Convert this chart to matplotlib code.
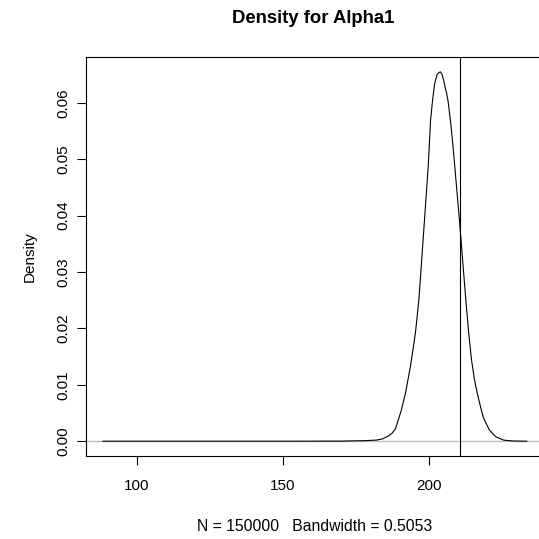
import numpy as np
import matplotlib
matplotlib.use("Agg")
import matplotlib.pyplot as plt

plt.rcParams["font.family"] = ["Liberation Sans", "DejaVu Sans"]

# density estimate
dens_x = [88.4, 120.0, 150.0, 170.0, 178.0, 182.0, 184.0, 186.0, 187.3, 188.5,
          190.5, 191.9, 193.6, 195.3, 196.5, 198.1, 199.7, 200.5, 201.2, 201.9,
          202.7, 203.4, 203.9, 204.4, 205.0, 205.6, 206.0, 206.5, 207.5, 208.5,
          209.5, 210.5, 211.5, 212.5, 213.5, 214.5, 215.5, 216.5, 217.6, 218.5,
          220.6, 222.8, 225.5, 228.5, 233.4]
dens_y = [0.0, 0.0, 0.0, 0.00002, 0.0001, 0.0002, 0.0004, 0.0009, 0.0014, 0.0022,
          0.0055, 0.0085, 0.0132, 0.0191, 0.0250, 0.0368, 0.0487, 0.0569, 0.0605, 0.0634,
          0.0650, 0.0654, 0.0655, 0.0651, 0.0640, 0.0625, 0.0617, 0.0603, 0.0560, 0.0505,
          0.0445, 0.0385, 0.0320, 0.0255, 0.0195, 0.0145, 0.0110, 0.0085, 0.0061, 0.0043,
          0.0020, 0.0008, 0.0002, 0.00005, 0.0]
true_value = 210.75
n_obs = 150000
bandwidth = 0.5053

x_ticks = [100, 150, 200]
y_ticks = [0.00, 0.01, 0.02, 0.03, 0.04, 0.05, 0.06]

fig = plt.figure(figsize=(5.39, 5.39), dpi=100)
ax = fig.add_axes([0.1596, 0.154, 0.849, 0.740])

# R style axis range: data range padded by 4%
xr = max(dens_x) - min(dens_x)
yr = max(dens_y) - min(dens_y)
ax.set_xlim(min(dens_x) - 0.04 * xr, max(dens_x) + 0.04 * xr)
ax.set_ylim(min(dens_y) - 0.04 * yr, max(dens_y) + 0.04 * yr)

ax.axhline(0, color="#bebebe", lw=1.0, zorder=1)
ax.plot(dens_x, dens_y, color="black", lw=0.8, zorder=2)
ax.axvline(true_value, color="black", lw=0.8, zorder=3)

ax.set_xticks(x_ticks)
ax.set_yticks(y_ticks)
ax.set_yticklabels([f"{v:.2f}" for v in y_ticks], rotation=90, va="center")
ax.tick_params(axis="both", direction="out", length=6.5, width=0.8,
               labelsize=11, color="black")
ax.tick_params(axis="x", pad=10)
ax.tick_params(axis="y", pad=5)

for side in ["left", "top", "bottom", "right"]:
    ax.spines[side].set_linewidth(0.8)

ax.set_ylabel("Density", fontsize=11, labelpad=14)
ax.set_xlabel(f"N = {n_obs}   Bandwidth = {bandwidth}", fontsize=11.3, labelpad=19)
fig.text(0.581, 0.966, "Density for Alpha1", ha="center", va="center",
         fontsize=13.3, fontweight="bold")

fig.savefig("out.png", dpi=100)
